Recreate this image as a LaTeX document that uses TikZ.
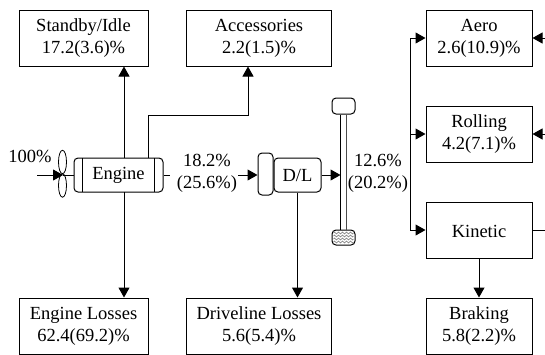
\documentclass[tikz,border=0pt]{standalone}
\usepackage{fontspec}
\setmainfont{Liberation Serif}
\usetikzlibrary{shapes.geometric,arrows.meta,decorations.pathmorphing}

\begin{document}
\begin{tikzpicture}[x=1pt,y=-1pt]
\tikzstyle{every node}=[font=\fontsize{18.5}{22}\selectfont,align=center,inner sep=0pt]
\tikzstyle{box}=[rectangle,draw,line width=1pt,minimum height=56pt,execute at begin node=\rule{0pt}{16pt}]
\tikzstyle{wide}=[box,minimum width=129pt]
\tikzstyle{wider}=[box,minimum width=145pt]
\tikzstyle{small}=[box,minimum width=106pt]
\tikzstyle{unit}=[rectangle,rounded corners=4pt,draw,line width=1pt]
\tikzstyle{fan}=[ellipse,draw,line width=.8pt,minimum width=8pt,minimum height=23.5pt]
\tikzstyle{flow}=[line width=1pt,-{Triangle[length=10pt,width=11pt]}]
\tikzstyle{link}=[line width=1pt]
\useasboundingbox (0,0) rectangle (545,354);
% top and bottom rows
\node[wide] (standby) at (83.5,38) {Standby/Idle\\17.2(3.6)\%};
\node[wider] (acc) at (259,38) {Accessories\\2.2(1.5)\%};
\node[wide] (englos) at (83.5,326) {Engine Losses\\62.4(69.2)\%};
\node[wider] (drvlos) at (259,326) {Driveline Losses\\5.6(5.4)\%};
% right column
\node[small] (aero) at (479,38) {Aero\\2.6(10.9)\%};
\node[small] (rolling) at (479,134) {Rolling\\4.2(7.1)\%};
\node[small] (kinetic) at (479,230) {Kinetic};
\node[small] (braking) at (479,326) {Braking\\5.8(2.2)\%};
% power train
\node[unit,minimum width=89pt,minimum height=34pt] (engine) at (118.5,175) {Engine};
\node[fan] (fanup) at (62.5,162) {};
\node[fan] (fandown) at (62.5,185.5) {};
\node[unit,minimum width=15pt,minimum height=42pt] (clutch) at (265.5,174) {};
\node[unit,minimum width=47pt,minimum height=34pt] (dl) at (297.5,175) {D/L};
\node[unit,minimum width=23pt,minimum height=16pt] (handle) at (343.5,106) {};
\node[unit,minimum width=23pt,minimum height=15pt] (pedal) at (343.5,237.5) {};
% labels
\node (inlab) at (30,156) {100\%};
\node (englab) at (207,173) {18.2\%\\(25.6\%)};
\node (dllab) at (378,173.5) {12.6\%\\(20.2\%)};
% free ends
\coordinate (fanin) at (37,175);
\coordinate (fanhub) at (63,175);
\coordinate (engout) at (170,175);
\coordinate (clutchin) at (238,175);
\coordinate (shaftin) at (340.5,175);
\coordinate (engup) at (124,158);
\coordinate (engdown) at (124,192);
\coordinate (engacc) at (148,158);
\coordinate (turn) at (248,115);
\coordinate (bus) at (410,134);
\coordinate (aeroin) at (545,38);
\coordinate (rollin) at (545,134);
\coordinate (kinout) at (545,230);
% engine inner lines
\draw[link] (82,158) -- (82,192);
\draw[link] (154,158) -- (154,192);
% connectors
\draw[flow] (fanin) -- (fanhub);
\draw[link] (fanhub) -- (engine.west);
\draw[link] (engine.east) -- (engout);
\draw[flow] (clutchin) -- (clutch.west |- clutchin);
\draw[flow] (dl.east) -- (shaftin);
\draw[flow] (engup) -- (engup |- standby.south);
\draw[flow] (engdown) -- (engdown |- englos.north);
\draw[flow] (engacc) |- (turn) -- (turn |- acc.south);
\draw[flow] (dl.south) -- (dl.south |- drvlos.north);
\draw[flow] (bus) |- (aero.west);
\draw[flow] (bus) -- (rolling.west);
\draw[flow] (bus) |- (kinetic.west);
\draw[flow] (aeroin) -- (aero.east);
\draw[flow] (rollin) -- (rolling.east);
\draw[link] (kinetic.east) -- (kinout);
\draw[flow] (kinetic.south) -- (braking.north);
% shaft and pedal
\draw[link] ([xshift=-3pt]handle.south) -- ([xshift=-3pt]pedal.north);
\draw[line width=1.6pt,black!70] ([xshift=3pt]handle.south) -- ([xshift=3pt]pedal.north);
\foreach \r in {-4.5,-1.5,1.5,4.5}
  \draw[black!55,line width=.5pt,decorate,decoration={zigzag,segment length=4pt,amplitude=1.1pt}]
    ([xshift=-10pt,yshift=\r pt]pedal.center) -- ([xshift=10pt,yshift=\r pt]pedal.center);
\end{tikzpicture}
\end{document}
